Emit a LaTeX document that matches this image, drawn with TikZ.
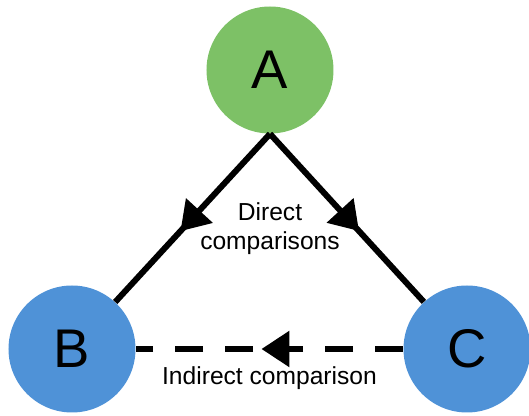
\documentclass[tikz,border=0pt]{standalone}
\usepackage{fontspec}
\setmainfont{Liberation Sans}
\usetikzlibrary{arrows.meta, positioning, decorations.markings}

\definecolor{nodegreen}{RGB}{125,193,102}
\definecolor{nodeblue}{RGB}{79,146,215}

\begin{document}
\begin{tikzpicture}[
    node distance=1.5cm,
    treatment/.style={circle, minimum size=2.54cm, inner sep=0pt, font=\fontsize{31}{36}\selectfont},
    caption/.style={inner sep=0pt, align=center, font=\fontsize{14}{16.5}\selectfont},
    link/.style={line width=0.12cm, postaction={decorate},
        decoration={markings, mark=at position #1 with {\arrow{Triangle[length=0.56cm, width=0.7cm]}}}},
    link/.default=0.58
]
    \useasboundingbox (0,0) rectangle (10.58,-8.32);

    % Treatments
    \node[treatment, fill=nodegreen] (a) at (5.4,-1.4) {A};
    \node[treatment, fill=nodeblue, on grid, below left=5.58cm and 3.96cm of a] (b) {B};
    \node[treatment, fill=nodeblue, on grid, right=7.9cm of b] (c) {C};
    \node[caption, below=1.36cm of a] (direct) {Direct\\comparisons};

    % Arrows
    \draw[link] (a.south) -- (b);
    \draw[link] (a.south) -- (c);
    \draw[link=0.53, dash pattern=on 0.56cm off 0.44cm] (c) -- (b)
        node[caption, midway, below=0.3cm] (indirect) {Indirect comparison};
\end{tikzpicture}
\end{document}
